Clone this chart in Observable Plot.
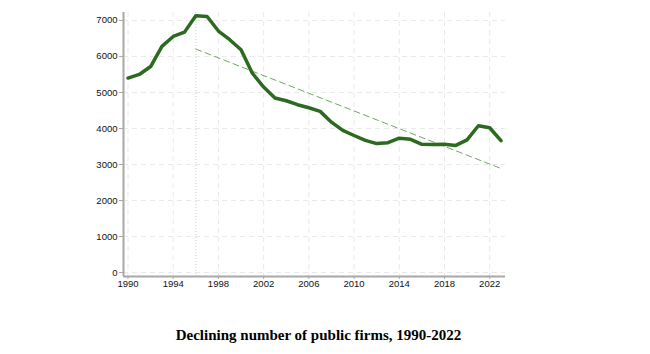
<!DOCTYPE html>
<html><head><meta charset="utf-8">
<script src="https://cdn.jsdelivr.net/npm/d3@7"></script>
<script src="https://cdn.jsdelivr.net/npm/@observablehq/plot@0.6"></script>
<style>
body{margin:0;background:#fff;}
#chart{width:650px;height:300px;}
#title{font-family:"Liberation Serif","Times New Roman",serif;font-weight:bold;font-size:15px;width:637px;text-align:center;margin-top:27px;color:#000;}
</style>
</head><body>
<div id="chart"></div>
<div id="title">Declining number of public firms, 1990-2022</div>
<script>
const years = [1990,1991,1992,1993,1994,1995,1996,1997,1998,1999,2000,2001,2002,2003,2004,2005,2006,2007,2008,2009,2010,2011,2012,2013,2014,2015,2016,2017,2018,2019,2020,2021,2022,2023];
const firms = [5400,5500,5720,6280,6555,6675,7130,7110,6705,6465,6185,5535,5150,4845,4770,4660,4575,4475,4175,3945,3805,3670,3580,3605,3730,3700,3560,3555,3560,3530,3685,4075,4020,3660];
const trendYears = [1996, 2023];
const trendValues = [6205, 2890];
const refYear = [1996];
const xTicks = [1990,1994,1998,2002,2006,2010,2014,2018,2022];
const yTicks = [0,1000,2000,3000,4000,5000,6000,7000];
const xDomain = [1989.6, 2023.4];
const yDomain = [-110, 7220];

const data = years.map((y,i)=>({year:y, firms:firms[i]}));
const trend = trendYears.map((y,i)=>({year:y, value:trendValues[i]}));
const fmt = d => String(d);

const chart = Plot.plot({
  width: 650, height: 300,
  marginLeft: 123, marginRight: 145, marginTop: 12, marginBottom: 24,
  style: {fontFamily: "'Liberation Sans', Arial, sans-serif", fontSize: "9.5px", color: "#111"},
  x: {domain: xDomain, label: null},
  y: {domain: yDomain, label: null},
  marks: [
    Plot.gridX(xTicks, {stroke: "#e9e9e9", strokeOpacity: 1, strokeDasharray: "5,4"}),
    Plot.gridY(yTicks, {stroke: "#e9e9e9", strokeOpacity: 1, strokeDasharray: "5,4"}),
    Plot.ruleX(refYear, {stroke: "#cfcfcf", strokeDasharray: "1,2", strokeWidth: 1}),
    Plot.ruleX([xDomain[0]], {stroke: "#a8a8a8", strokeWidth: 2}),
    Plot.ruleY([yDomain[0]], {stroke: "#a8a8a8", strokeWidth: 2}),
    Plot.axisX(xTicks, {tickSize: 3, tickPadding: 1, stroke: "#a8a8a8", fontSize: 9.5, tickFormat: fmt, label: null}),
    Plot.axisY(yTicks, {tickSize: 4, tickPadding: 2, stroke: "#a8a8a8", fontSize: 9.5, tickFormat: fmt, label: null}),
    Plot.line(trend, {x: "year", y: "value", stroke: "#6fa862", strokeWidth: 1, strokeDasharray: "6,4"}),
    Plot.line(data, {x: "year", y: "firms", stroke: "#2b6a1f", strokeWidth: 3.5, strokeLinejoin: "round"})
  ]
});
document.getElementById("chart").appendChild(chart);
</script>
</body></html>
